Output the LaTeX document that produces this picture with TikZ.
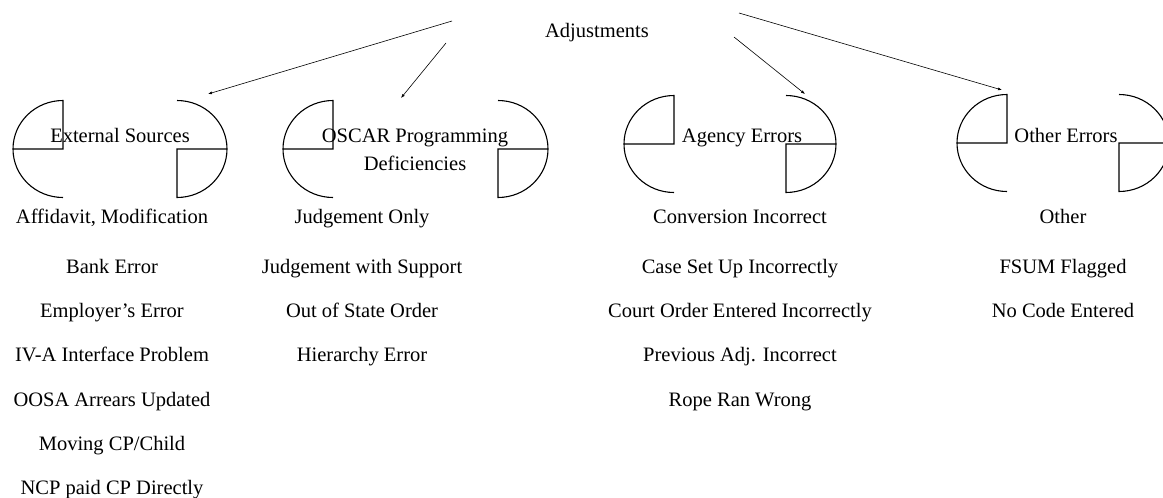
\documentclass[tikz,border=0pt]{standalone}
\usepackage{fontspec}
\setmainfont{Liberation Serif}
\usetikzlibrary{arrows.meta, positioning}
\tikzset{
    title_text/.style={font=\fontsize{20.5}{28}\selectfont, inner sep=0pt, anchor=base, align=center},
    item_text/.style={font=\fontsize{20.5}{24}\selectfont, inner sep=0pt, text height=14pt, text depth=5pt},
    bracket/.style={line width=1.1pt},
    arrow/.style={-{Latex[length=4pt,width=3pt]}, line width=0.6pt}
}
% left x, right x, centre y of one pair of half-round brackets
\newcommand{\bracketpair}[3]{%
  \draw[bracket] (#1-50,#3) -- (#1,#3) -- (#1,#3-48.5)
      arc[start angle=90, end angle=270, x radius=50pt, y radius=48.5pt];
  \draw[bracket] (#2+50,#3) -- (#2,#3) -- (#2,#3+48.5)
      arc[start angle=-90, end angle=90, x radius=50pt, y radius=48.5pt];
}

\begin{document}
\begin{tikzpicture}[x=1pt, y=-1pt, node distance=24.8pt]
\useasboundingbox (0,0) rectangle (1163,498);

% Brackets
\bracketpair{63}{177}{149}
\bracketpair{333}{498}{149}
\bracketpair{674}{786}{144}
\bracketpair{1007}{1119}{143}

% Titles
\node (adj) [title_text] at (597,37) {Adjustments};
\node (ext) [title_text] at (120,142) {External Sources};
\node (oscar) [title_text] at (415,170) {OSCAR Programming\\Deficiencies};
\node (agency) [title_text] at (742,142) {Agency Errors};
\node (other) [title_text] at (1066,142) {Other Errors};

% External sources
\node (ext1) [item_text, anchor=base] at (112,223) {Affidavit, Modification};
\node (ext2) [item_text, below=31pt of ext1] {Bank Error};
\node (ext3) [item_text, below=of ext2] {Employer’s Error};
\node (ext4) [item_text, below=of ext3] {IV-A Interface Problem};
\node (ext5) [item_text, below=of ext4] {OOSA Arrears Updated};
\node (ext6) [item_text, below=of ext5] {Moving CP/Child};
\node (ext7) [item_text, below=of ext6] {NCP paid CP Directly};

% OSCAR deficiencies
\node (osc1) [item_text, anchor=base] at (362,223) {Judgement Only};
\node (osc2) [item_text, below=31pt of osc1] {Judgement with Support};
\node (osc3) [item_text, below=of osc2] {Out of State Order};
\node (osc4) [item_text, below=of osc3] {Hierarchy Error};

% Agency errors
\node (agy1) [item_text, anchor=base] at (740,223) {Conversion Incorrect};
\node (agy2) [item_text, below=31pt of agy1] {Case Set Up Incorrectly};
\node (agy3) [item_text, below=of agy2] {Court Order Entered Incorrectly};
\node (agy4) [item_text, below=of agy3] {Previous Adj. Incorrect};
\node (agy5) [item_text, below=of agy4] {Rope Ran Wrong};

% Other errors
\node (oth1) [item_text, anchor=base] at (1063,223) {Other};
\node (oth2) [item_text, below=31pt of oth1] {FSUM Flagged};
\node (oth3) [item_text, below=of oth2] {No Code Entered};

% Arrows from the top
\coordinate (s1) at (452,21);
\coordinate (t1) at (208,94);
\coordinate (s2) at (446,43);
\coordinate (t2) at (401,98);
\coordinate (s3) at (734,37);
\coordinate (t3) at (805,94);
\coordinate (s4) at (739,13);
\coordinate (t4) at (1002,90);
\draw[arrow] (s1) -- (t1);
\draw[arrow] (s2) -- (t2);
\draw[arrow] (s3) -- (t3);
\draw[arrow] (s4) -- (t4);

\end{tikzpicture}
\end{document}
